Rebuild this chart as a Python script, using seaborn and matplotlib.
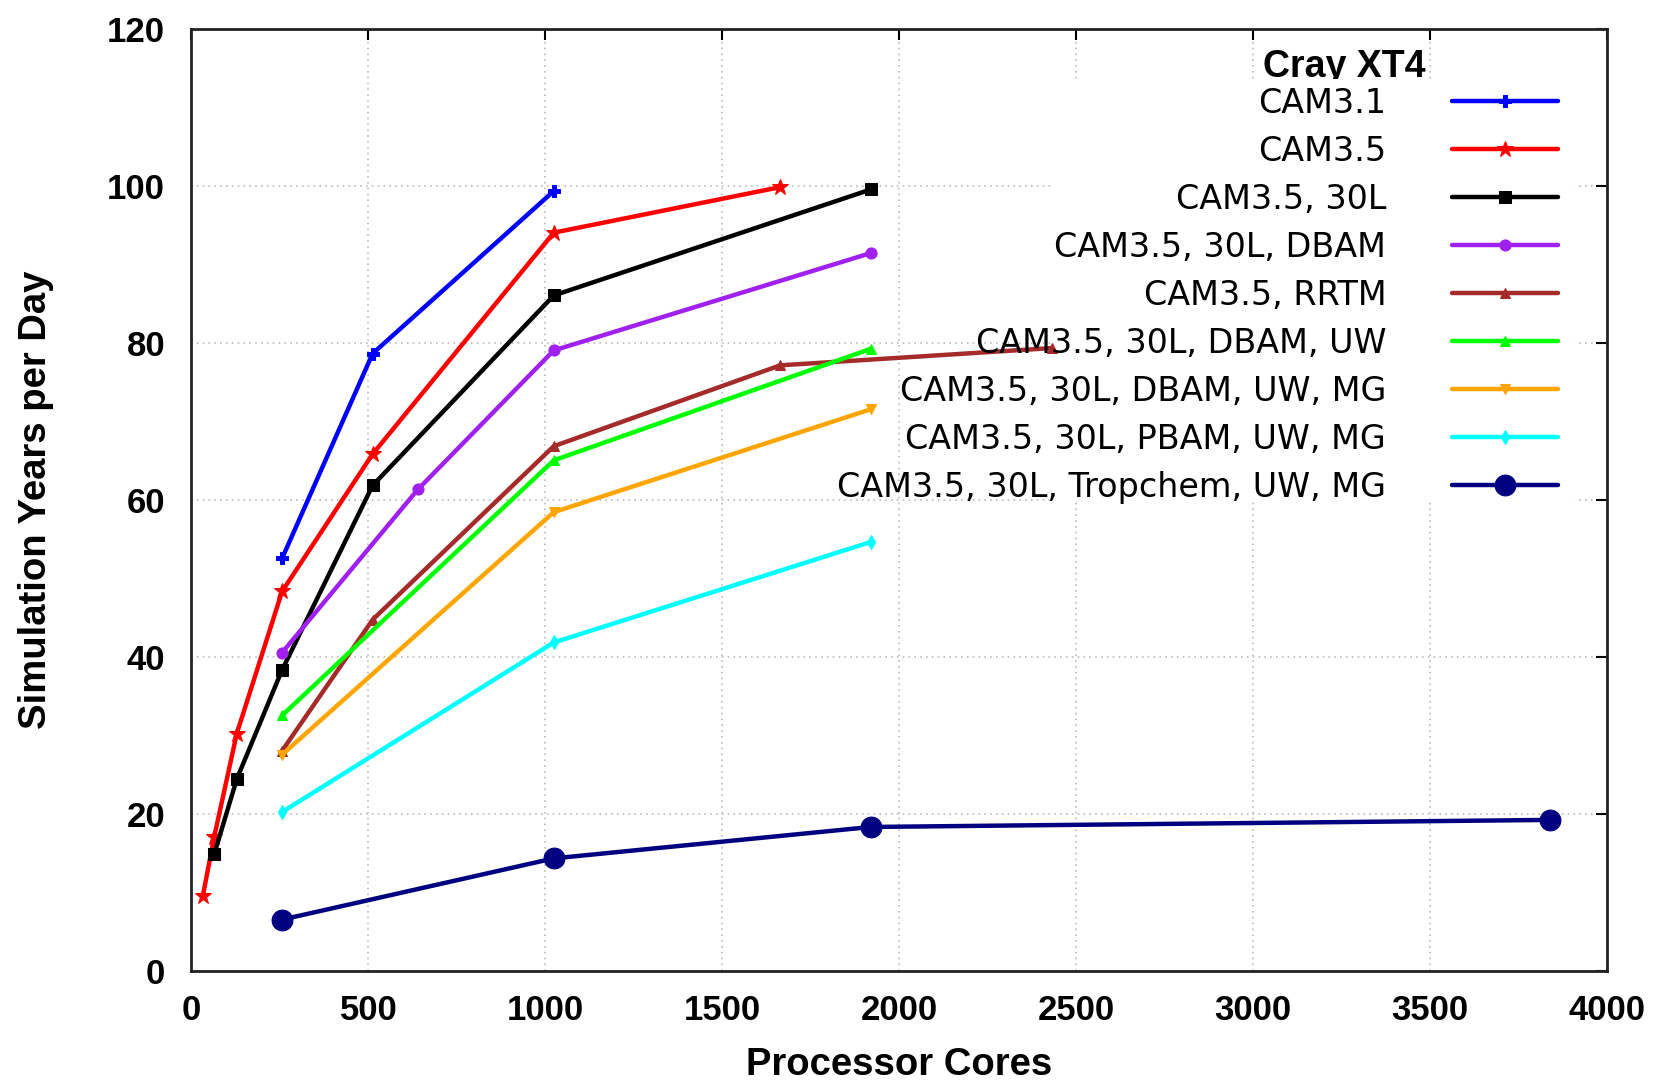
import matplotlib
matplotlib.use("Agg")
import matplotlib.pyplot as plt
from matplotlib.patches import Rectangle
import seaborn as sns
import pandas as pd

# series values
labels = ["CAM3.1", "CAM3.5", "CAM3.5, 30L", "CAM3.5, 30L, DBAM", "CAM3.5, RRTM",
          "CAM3.5, 30L, DBAM, UW", "CAM3.5, 30L, DBAM, UW, MG",
          "CAM3.5, 30L, PBAM, UW, MG", "CAM3.5, 30L, Tropchem, UW, MG"]

cam31_x = [256, 512, 1024]
cam31_y = [52.5, 78.6, 99.3]
cam35_x = [32, 64, 128, 256, 512, 1024, 1664]
cam35_y = [9.5, 17.0, 30.2, 48.3, 65.8, 94.0, 99.8]
l30_x = [64, 128, 256, 512, 1024, 1920]
l30_y = [14.8, 24.4, 38.3, 61.8, 86.0, 99.5]
dbam_x = [256, 640, 1024, 1920]
dbam_y = [40.5, 61.3, 79.0, 91.4]
rrtm_x = [256, 512, 1024, 1664, 2432]
rrtm_y = [28.0, 44.7, 66.8, 77.1, 79.3]
uw_x = [256, 1024, 1920]
uw_y = [32.5, 65.0, 79.2]
mg_x = [256, 1024, 1920]
mg_y = [27.5, 58.4, 71.5]
pbam_x = [256, 1024, 1920]
pbam_y = [20.2, 41.8, 54.6]
trop_x = [256, 1024, 1920, 3840]
trop_y = [6.5, 14.3, 18.3, 19.2]

xs = [cam31_x, cam35_x, l30_x, dbam_x, rrtm_x, uw_x, mg_x, pbam_x, trop_x]
ys = [cam31_y, cam35_y, l30_y, dbam_y, rrtm_y, uw_y, mg_y, pbam_y, trop_y]

colors = ["#0000ff", "#ff0000", "#000000", "#a020f0", "#a52a2a",
          "#00ff00", "#ffa500", "#00ffff", "#000080"]
markers = ["P", "*", "s", "o", "^", "^", "v", "d", "o"]
msizes = [8, 12, 8, 8, 7, 7, 7, 7, 15]

sns.set_style("white")
plt.rcParams["font.family"] = ["DejaVu Sans"]
plt.rcParams["text.color"] = "black"
plt.rcParams["axes.labelcolor"] = "black"
plt.rcParams["xtick.color"] = "black"
plt.rcParams["ytick.color"] = "black"

fig = plt.figure(figsize=(16.58, 10.85), dpi=100)
ax = fig.add_axes([0.1155, 0.1054, 0.8535, 0.8683])

for lab, x, y, c, m, ms in zip(labels, xs, ys, colors, markers, msizes):
    df = pd.DataFrame({"cores": x, "ypd": y})
    sns.lineplot(data=df, x="cores", y="ypd", ax=ax, color=c, marker=m,
                 markersize=ms, markeredgecolor=c, linewidth=3.2, label=lab,
                 sort=False, zorder=4)

ax.set_xlim(0, 4000)
ax.set_ylim(0, 120)
ax.set_xticks(range(0, 4001, 500))
ax.set_yticks(range(0, 121, 20))
ax.grid(True, color="#bbbbbb", linestyle=(0, (1, 2.5)), linewidth=1.2)
ax.tick_params(direction="in", length=8, width=1.5, top=True, right=True,
               labelsize=25)
ax.tick_params(axis="y", pad=19)
ax.tick_params(axis="x", pad=17)
for t in ax.get_xticklabels() + ax.get_yticklabels():
    t.set_fontfamily("Liberation Sans")
    t.set_fontweight("bold")
for s in ax.spines.values():
    s.set_linewidth(2)
    s.set_color("#222222")

ax.set_xlabel("Processor Cores", fontsize=27.5, fontweight="bold",
              family="Liberation Sans", labelpad=14)
ax.set_ylabel("Simulation Years per Day", fontsize=27.5, fontweight="bold",
              family="Liberation Sans", labelpad=38)

# title of the key, partly hidden under the white key box like the original
ax.text(0.8145, 0.959, "Cray XT4", transform=ax.transAxes, ha="center",
        va="center", fontsize=27, fontweight="bold", family="Liberation Sans",
        zorder=2)
ax.add_patch(Rectangle((0.608, 0.497), 0.37, 0.449, transform=ax.transAxes,
                       facecolor="white", edgecolor="none", zorder=3))

leg = ax.legend(loc="upper right", bbox_to_anchor=(0.966, 0.938),
                markerfirst=False, frameon=False, fontsize=24,
                handlelength=3.2, labelspacing=0.45, borderpad=0,
                borderaxespad=0, handletextpad=1.97)
leg.set_zorder(5)

fig.savefig("out.png", dpi=100)
